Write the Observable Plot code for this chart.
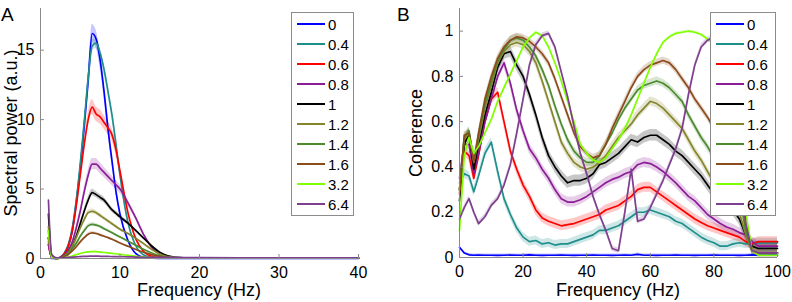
<!DOCTYPE html>
<html><head><meta charset="utf-8">
<script src="https://cdn.jsdelivr.net/npm/d3@7"></script>
<script src="https://cdn.jsdelivr.net/npm/@observablehq/plot@0.6"></script>
<style>
body{margin:0;background:#fff;font-family:"Liberation Sans",Arial,Helvetica,sans-serif;color:#000;}
#wrap{position:relative;width:792px;height:302px;overflow:hidden;background:#fff;}
.panel{position:absolute;top:0;}
.txt{position:absolute;white-space:nowrap;font-size:18px;line-height:1;}
.legend{position:absolute;background:#fff;border:1px solid #8c8c8c;box-sizing:border-box;padding-top:1px;font-size:15px;}
.legend .row{height:20px;display:flex;align-items:center;}
.legend .sw{display:inline-block;width:28px;height:2px;margin-left:5px;margin-right:3px;}
</style></head>
<body><div id="wrap"></div>
<script>
// ---------- series / legend ----------
const seriesLabels = ["0","0.4","0.6","0.8","1","1.2","1.4","1.6","3.2","6.4"];
const seriesColors = ["#0000ff","#1f8f8c","#ff0000","#8c1d98","#000000","#85852b","#4b8a2e","#8c4b1b","#80ff00","#7d3f8e"];

// ---------- Panel A : spectral power ----------
const freqA = [1,1.4,2,2.5,3,3.5,4,4.5,5,5.5,6,6.5,7,7.5,8,8.5,9,9.5,10,11,12,13,14,15,16,18,20,25,30,35,40];
const psd_0   = [1.5,0,0,0.05,0.3,0.9,2.0,4.0,6.5,9.5,12.8,16.2,15.8,14.3,12.0,9.3,7.0,4.8,3.2,1.3,0.35,0.08,0.02,0.01,0.01,0.01,0.01,0.01,0.01,0.01,0.01];
const psd_0_4 = [1.2,0.1,0,0.1,0.4,1.0,2.2,4.2,6.8,9.8,13.0,15.3,15.5,14.8,13.6,12.0,10.3,8.2,6.0,2.6,0.9,0.25,0.08,0.03,0.02,0.02,0.02,0.02,0.02,0.02,0.02];
const psd_0_6 = [1.0,0.1,0,0.1,0.35,0.9,2.0,3.8,6.0,8.2,10.0,10.9,10.4,10.2,9.8,9.4,8.9,7.8,6.3,3.3,1.4,0.5,0.15,0.05,0.02,0.02,0.02,0.02,0.02,0.02,0.02];
const psd_0_8 = [1.0,0.1,0,0.08,0.25,0.6,1.2,2.2,3.4,4.8,6.0,6.8,6.8,6.5,6.2,5.9,5.6,5.3,5.0,4.0,2.9,1.7,0.8,0.3,0.1,0.03,0.02,0.02,0.02,0.02,0.02];
const psd_1   = [3.2,0.2,0,0.05,0.2,0.45,0.9,1.6,2.5,3.4,4.2,4.75,4.6,4.4,4.2,3.85,3.5,3.25,3.0,2.55,2.0,1.45,0.9,0.45,0.2,0.04,0.02,0.02,0.02,0.02,0.02];
const psd_1_2 = [2.3,0.2,0,0.05,0.2,0.45,0.9,1.5,2.2,2.8,3.3,3.4,3.3,3.1,2.9,2.7,2.5,2.3,2.1,1.8,1.45,1.05,0.65,0.33,0.13,0.03,0.02,0.02,0.02,0.02,0.02];
const psd_1_4 = [2.0,0.2,0,0.05,0.15,0.35,0.7,1.1,1.6,2.0,2.35,2.45,2.4,2.3,2.15,2.0,1.85,1.7,1.55,1.25,0.95,0.65,0.4,0.2,0.08,0.02,0.02,0.02,0.02,0.02,0.02];
const psd_1_6 = [1.5,0.15,0,0.04,0.12,0.28,0.55,0.85,1.2,1.5,1.75,1.85,1.8,1.7,1.6,1.5,1.38,1.25,1.12,0.88,0.65,0.45,0.28,0.15,0.06,0.02,0.02,0.02,0.02,0.02,0.02];
const psd_3_2 = [2.0,0.1,0,0.02,0.05,0.1,0.18,0.27,0.36,0.43,0.48,0.5,0.49,0.46,0.43,0.4,0.37,0.34,0.3,0.23,0.16,0.1,0.06,0.03,0.02,0.02,0.02,0.02,0.02,0.02,0.02];
const psd_6_4 = [4.2,0.3,0.05,0.05,0.06,0.08,0.1,0.12,0.14,0.15,0.16,0.17,0.17,0.16,0.15,0.15,0.14,0.14,0.13,0.12,0.1,0.09,0.09,0.08,0.08,0.07,0.06,0.05,0.05,0.05,0.05];
const psdSeries = [psd_0,psd_0_4,psd_0_6,psd_0_8,psd_1,psd_1_2,psd_1_4,psd_1_6,psd_3_2,psd_6_4];
const psdBandFrac = [0.04,0.025,0.05,0.06,0.05,0.05,0.05,0.05,0.05,0.05];
const ticksAx = [0,10,20,30,40];
const ticksAy = [0,5,10,15];

// ---------- Panel B : coherence ----------
const freqB = [0,1.5,3,4.5,6, 8,10,12,14,16,18,20,22,24,26, 28,30,32,34,36,38,40,42,44,46, 48,50,52,54,56,58,60,62,64,66, 68,70,72,74,76,78,80,82,84,86, 88,90,92,94,96,98,100];
const coh_0   = [0.045,0.02,0.012,0.01,0.011, 0.01,0.01,0.009,0.01,0.011,0.01,0.01,0.012,0.01,0.009, 0.01,0.01,0.011,0.01,0.009,0.01,0.01,0.011,0.01,0.01, 0.009,0.01,0.011,0.01,0.014,0.01,0.01,0.009,0.01,0.01, 0.011,0.01,0.01,0.009,0.01,0.01,0.011,0.01,0.01,0.01, 0.009,0.01,0.012,0.01,0.01,0.011,0.01];
const coh_0_4 = [0.33,0.37,0.36,0.29,0.36, 0.46,0.51,0.38,0.26,0.19,0.13,0.09,0.07,0.075,0.06, 0.065,0.055,0.06,0.06,0.07,0.08,0.09,0.1,0.12,0.12, 0.13,0.14,0.16,0.18,0.2,0.2,0.21,0.2,0.19,0.18, 0.16,0.15,0.13,0.11,0.09,0.075,0.065,0.05,0.05,0.06, 0.065,0.06,0.06,0.065,0.065,0.065,0.065];
const coh_0_6 = [0.3,0.47,0.45,0.35,0.45, 0.6,0.7,0.73,0.6,0.47,0.39,0.32,0.27,0.21,0.175, 0.16,0.15,0.14,0.145,0.15,0.16,0.17,0.18,0.19,0.21, 0.22,0.23,0.25,0.27,0.3,0.31,0.31,0.29,0.27,0.25, 0.23,0.21,0.19,0.17,0.155,0.14,0.13,0.12,0.11,0.1, 0.09,0.07,0.06,0.07,0.07,0.07,0.07];
const coh_0_8 = [0.35,0.5,0.5,0.37,0.46, 0.6,0.7,0.8,0.86,0.77,0.65,0.56,0.48,0.44,0.39, 0.35,0.3,0.26,0.245,0.245,0.255,0.27,0.29,0.31,0.33, 0.345,0.355,0.37,0.38,0.41,0.42,0.415,0.4,0.38,0.355, 0.33,0.3,0.27,0.25,0.22,0.19,0.17,0.15,0.135,0.125, 0.11,0.1,0.07,0.05,0.05,0.05,0.05];
const coh_1   = [0.25,0.5,0.55,0.39,0.5, 0.63,0.73,0.84,0.9,0.91,0.85,0.8,0.72,0.63,0.53, 0.45,0.4,0.36,0.33,0.34,0.34,0.35,0.37,0.41,0.42, 0.44,0.46,0.49,0.52,0.51,0.53,0.54,0.54,0.52,0.5, 0.47,0.45,0.42,0.39,0.36,0.32,0.28,0.25,0.23,0.21, 0.17,0.1,0.05,0.04,0.04,0.04,0.04];
const coh_1_2 = [0.3,0.52,0.55,0.42,0.52, 0.66,0.76,0.86,0.91,0.94,0.95,0.94,0.91,0.86,0.78, 0.69,0.6,0.51,0.46,0.42,0.4,0.39,0.4,0.42,0.45, 0.49,0.53,0.56,0.59,0.63,0.66,0.69,0.68,0.66,0.63, 0.6,0.57,0.52,0.47,0.43,0.38,0.33,0.3,0.27,0.25, 0.2,0.1,0.03,0.02,0.02,0.02,0.02];
const coh_1_4 = [0.3,0.53,0.56,0.43,0.54, 0.68,0.78,0.87,0.92,0.96,0.97,0.96,0.93,0.89,0.83, 0.76,0.67,0.59,0.52,0.47,0.44,0.42,0.42,0.45,0.5, 0.55,0.61,0.66,0.7,0.74,0.76,0.77,0.78,0.77,0.75, 0.72,0.69,0.63,0.58,0.53,0.49,0.44,0.4,0.36,0.32, 0.27,0.12,0.03,0.02,0.02,0.02,0.02];
const coh_1_6 = [0.28,0.54,0.55,0.42,0.55, 0.7,0.8,0.88,0.93,0.96,0.975,0.97,0.955,0.93,0.9, 0.86,0.79,0.71,0.63,0.55,0.49,0.46,0.44,0.45,0.5, 0.57,0.63,0.69,0.75,0.8,0.83,0.85,0.86,0.87,0.86, 0.83,0.79,0.75,0.7,0.66,0.62,0.57,0.52,0.47,0.42, 0.36,0.15,0.03,0.02,0.02,0.02,0.02];
const coh_3_2 = [0.12,0.45,0.53,0.46,0.49, 0.55,0.61,0.69,0.75,0.81,0.87,0.93,0.97,0.995,0.98, 0.93,0.86,0.78,0.69,0.6,0.5,0.46,0.43,0.42,0.44, 0.48,0.52,0.57,0.63,0.7,0.77,0.84,0.9,0.95,0.975, 0.99,0.995,1.0,0.995,0.985,0.965,0.94,0.9,0.86,0.8, 0.6,0.2,0.03,0.01,0.01,0.01,0.01];
const coh_6_4 = [0.17,0.22,0.26,0.2,0.15, 0.18,0.23,0.26,0.32,0.41,0.55,0.7,0.85,0.94,0.98, 0.99,0.93,0.82,0.71,0.58,0.46,0.37,0.27,0.19,0.12, 0.04,0.03,0.2,0.39,0.16,0.17,0.22,0.28,0.34,0.41, 0.48,0.57,0.72,0.85,0.93,0.96,0.975,0.97,0.93,0.8, 0.5,0.15,0.03,0.02,0.02,0.02,0.02];
const cohSeries = [coh_0,coh_0_4,coh_0_6,coh_0_8,coh_1,coh_1_2,coh_1_4,coh_1_6,coh_3_2,coh_6_4];
const cohBand = [0.006,0.02,0.022,0.022,0.025,0.02,0.018,0.016,0.006,0.012];
const ticksBx = [0,20,40,60,80,100];
const ticksBy = [0,0.2,0.4,0.6,0.8,1];

// ---------- build tables ----------
const rowsA = [], rowsB = [];
psdSeries.forEach((arr, i) => arr.forEach((v, j) => {
  const e = v * psdBandFrac[i];
  rowsA.push({s: seriesLabels[i], f: freqA[j], v, lo: Math.max(0, v - e), hi: v + e});
}));
cohSeries.forEach((arr, i) => arr.forEach((v, j) => {
  const e = cohBand[i];
  rowsB.push({s: seriesLabels[i], f: freqB[j], v, lo: Math.max(0, v - e), hi: v + e});
}));

const color = {domain: seriesLabels, range: seriesColors};
const font = "Liberation Sans, Arial, Helvetica, sans-serif";
const axisGray = "#8a8a8a";

function panel({rows, xDomain, yDomain, xt, yt, width, mL, mR, mT, mB, curve}) {
  const plotW = width - mL - mR;
  const plotH = 302 - mT - mB;
  return Plot.plot({
    width, height: 302,
    marginLeft: mL, marginRight: mR, marginTop: mT, marginBottom: mB,
    x: {domain: xDomain}, y: {domain: yDomain},
    color,
    style: {fontFamily: font, color: "#000", background: "transparent", overflow: "visible"},
    marks: [
      Plot.areaY(rows, {x: "f", y1: "lo", y2: "hi", z: "s", fill: "s", fillOpacity: 0.22, curve}),
      Plot.lineY(rows, {x: "f", y: "v", z: "s", stroke: "s", strokeWidth: 1.7, curve}),
      Plot.ruleX([xDomain[0]], {stroke: axisGray, strokeWidth: 1}),
      Plot.ruleY([yDomain[0]], {stroke: axisGray, strokeWidth: 1}),
      Plot.tickX(xt, {x: d => d, stroke: axisGray, insetTop: plotH - 4}),
      Plot.tickY(yt, {y: d => d, stroke: axisGray, insetRight: plotW - 4}),
      Plot.axisX({ticks: xt, tickSize: 0, tickPadding: 8, fontSize: 16, label: null, tickFormat: d => String(d)}),
      Plot.axisY({ticks: yt, tickSize: 0, tickPadding: 6, fontSize: 16, label: null, tickFormat: d => String(d)})
    ]
  });
}

const wrap = document.getElementById("wrap");

const chartA = panel({rows: rowsA, xDomain: [0, 40], yDomain: [0, 18], xt: ticksAx, yt: ticksAy,
  width: 392, mL: 40, mR: 34, mT: 8, mB: 44, curve: "monotone-x"});
chartA.classList.add("panel"); chartA.style.left = "0px";
wrap.appendChild(chartA);

const chartB = panel({rows: rowsB, xDomain: [0, 100], yDomain: [0, 1.1], xt: ticksBx, yt: ticksBy,
  width: 400, mL: 67, mR: 15, mT: 8, mB: 45, curve: "linear"});
chartB.classList.add("panel"); chartB.style.left = "392px";
wrap.appendChild(chartB);

function addText(str, left, top, opts = {}) {
  const d = document.createElement("div");
  d.className = "txt";
  d.textContent = str;
  d.style.left = left + "px";
  d.style.top = top + "px";
  if (opts.size) d.style.fontSize = opts.size + "px";
  wrap.appendChild(d);
  return d;
}

// panel letters
addText("A", 1, 5, {size: 19});
addText("B", 397, 5, {size: 19});
// x labels
const xa = addText("Frequency (Hz)", 0, 281);
xa.style.left = (199 - xa.offsetWidth / 2) + "px";
const xb = addText("Frequency (Hz)", 0, 281);
xb.style.left = (618 - xb.offsetWidth / 2) + "px";
// y labels (rotated)
const ya = addText("Spectral power (a.u.)", 0, 0);
ya.style.left = (-ya.offsetWidth / 2 + 10.5) + "px";
ya.style.top = (133 - ya.offsetHeight / 2) + "px";
ya.style.transform = "rotate(-90deg)";
const yb = addText("Coherence", 0, 0);
yb.style.left = (416 - yb.offsetWidth / 2) + "px";
yb.style.top = (133 - yb.offsetHeight / 2) + "px";
yb.style.transform = "rotate(-90deg)";

// legends
function legend(left, top, w, h) {
  const div = document.createElement("div");
  div.className = "legend";
  Object.assign(div.style, {left: left + "px", top: top + "px", width: w + "px", height: h + "px"});
  seriesLabels.forEach((lab, i) => {
    const row = document.createElement("div");
    row.className = "row";
    const sw = document.createElement("span");
    sw.className = "sw";
    sw.style.background = seriesColors[i];
    const t = document.createElement("span");
    t.textContent = lab;
    row.appendChild(sw); row.appendChild(t);
    div.appendChild(row);
  });
  wrap.appendChild(div);
}
legend(291, 12, 63, 204);
legend(710, 12, 66, 204);
</script>
</body></html>
